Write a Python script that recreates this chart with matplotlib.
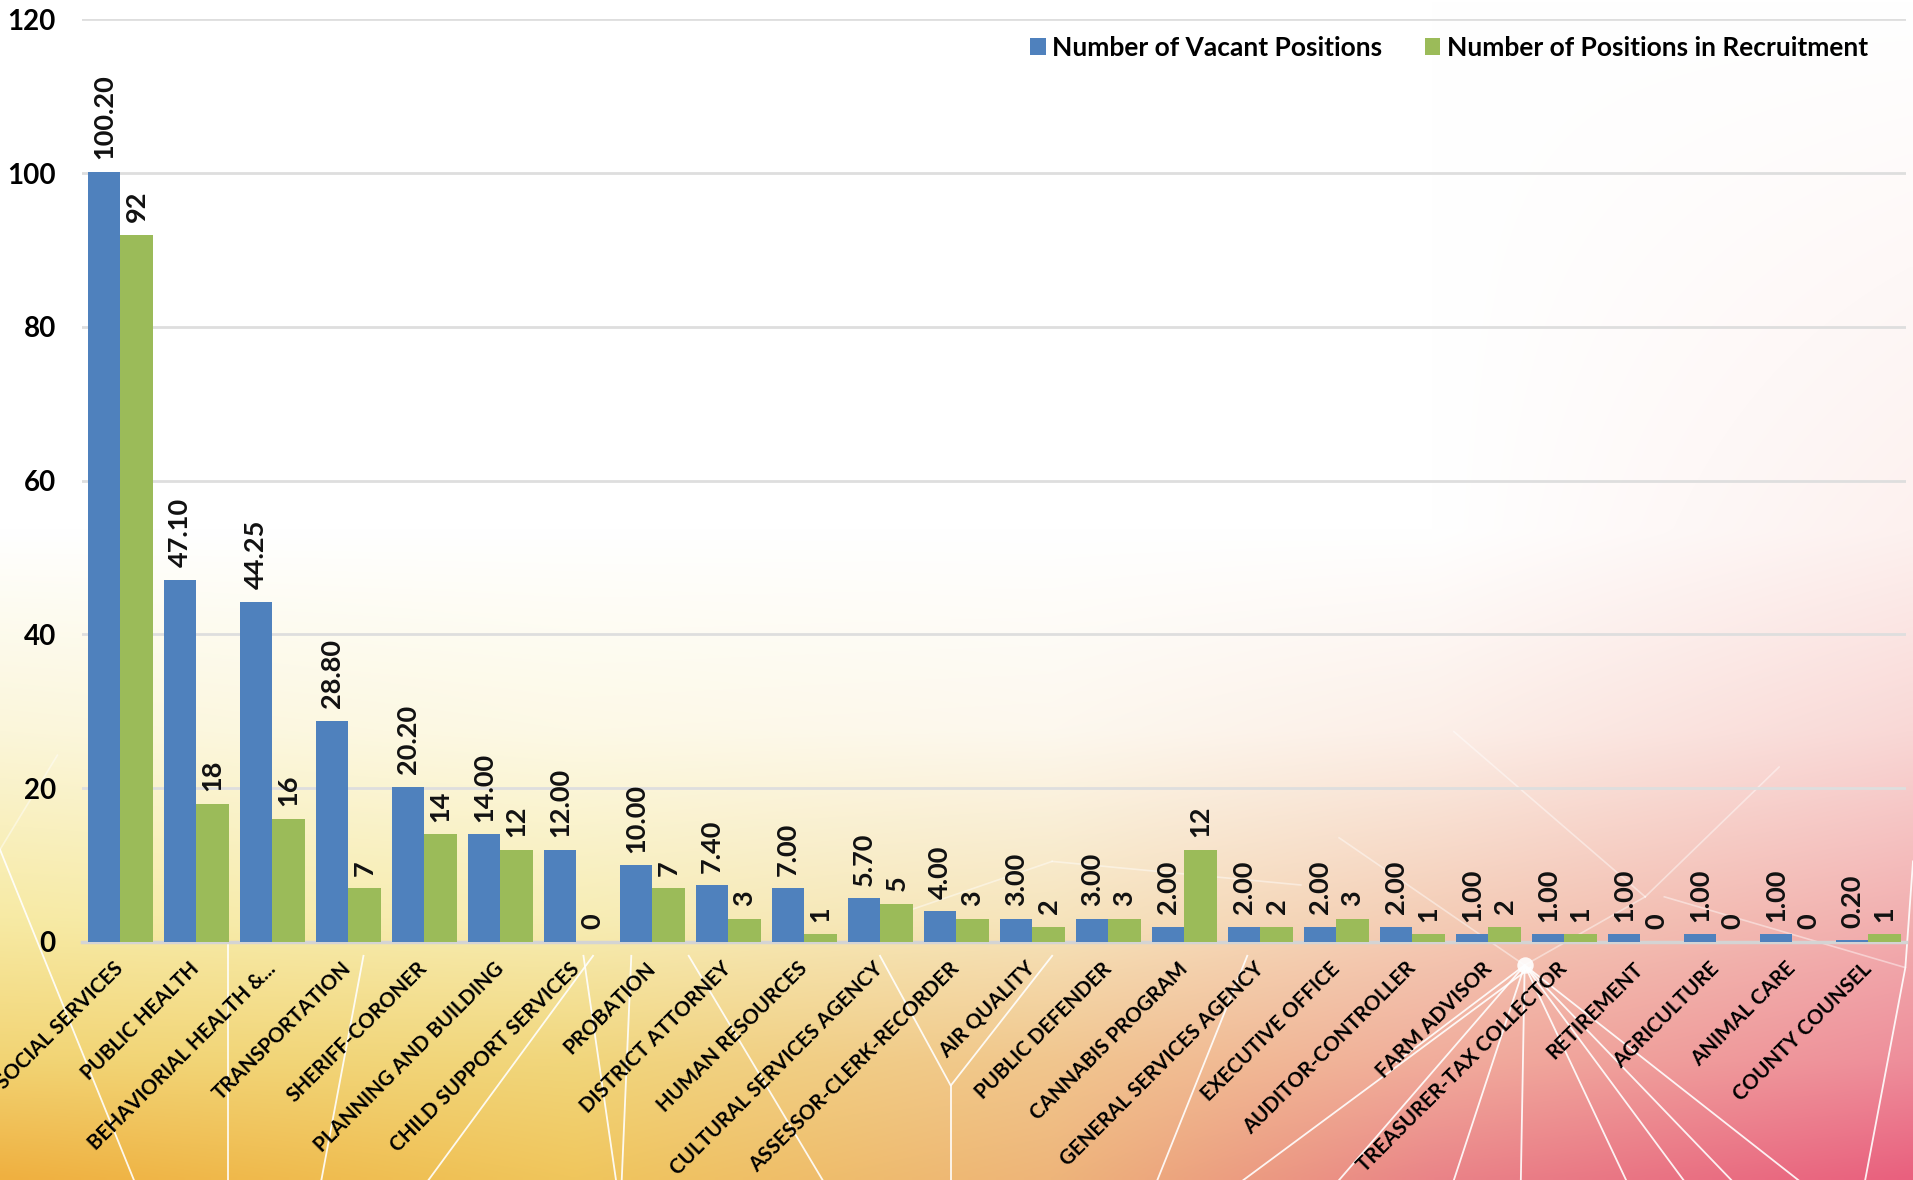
import numpy as np
import matplotlib.pyplot as plt
from matplotlib.colors import to_rgb

# department staffing numbers
departments = [
    "SOCIAL SERVICES", "PUBLIC HEALTH", "BEHAVIORIAL HEALTH &...", "TRANSPORTATION",
    "SHERIFF-CORONER", "PLANNING AND BUILDING", "CHILD SUPPORT SERVICES", "PROBATION",
    "DISTRICT ATTORNEY", "HUMAN RESOURCES", "CULTURAL SERVICES AGENCY",
    "ASSESSOR-CLERK-RECORDER", "AIR QUALITY", "PUBLIC DEFENDER", "CANNABIS PROGRAM",
    "GENERAL SERVICES AGENCY", "EXECUTIVE OFFICE", "AUDITOR-CONTROLLER", "FARM ADVISOR",
    "TREASURER-TAX COLLECTOR", "RETIREMENT", "AGRICULTURE", "ANIMAL CARE", "COUNTY COUNSEL",
]
vacant = [100.20, 47.10, 44.25, 28.80, 20.20, 14.00, 12.00, 10.00, 7.40, 7.00, 5.70, 4.00,
          3.00, 3.00, 2.00, 2.00, 2.00, 2.00, 1.00, 1.00, 1.00, 1.00, 1.00, 0.20]
recruiting = [92, 18, 16, 7, 14, 12, 0, 7, 3, 1, 5, 3, 2, 3, 12, 2, 3, 1, 2, 1, 0, 0, 0, 1]

BLUE = "#4f81bd"
GREEN = "#9bbb59"
FONT = ["Lato", "DejaVu Sans"]

fig = plt.figure(figsize=(19.13, 11.80), dpi=100)

# --- decorative background: soft gradient with white polygon lines ---
bg = fig.add_axes([0, 0, 1, 1], zorder=-10)
row_pos = [0.0, 0.45, 0.62, 0.78, 0.9, 1.0]
col_pos = [0.0, 0.3, 0.55, 0.75, 1.0]
grid_hex = [
    ["#ffffff", "#ffffff", "#ffffff", "#ffffff", "#ffffff"],
    ["#ffffff", "#ffffff", "#ffffff", "#ffffff", "#fdf1ef"],
    ["#fbf6da", "#fdf9e6", "#fdf8ee", "#fcefe8", "#f9d8d6"],
    ["#f7eaa4", "#f7edb4", "#f6e4bc", "#f4cdb6", "#f2afb0"],
    ["#f2d474", "#f1d67c", "#f1c68e", "#f1ad9c", "#ee8e9b"],
    ["#efb040", "#f0c65c", "#eeb57a", "#ea8488", "#e9607e"],
]
grid_rgb = np.array([[to_rgb(c) for c in row] for row in grid_hex])
H, W = 240, 380
ys = np.linspace(0, 1, H)
xs = np.linspace(0, 1, W)
tmp = np.zeros((len(row_pos), W, 3))
for i in range(len(row_pos)):
    for ch in range(3):
        tmp[i, :, ch] = np.interp(xs, col_pos, grid_rgb[i, :, ch])
img = np.zeros((H, W, 3))
for j in range(W):
    for ch in range(3):
        img[:, j, ch] = np.interp(ys, row_pos, tmp[:, j, ch])
bg.imshow(img, extent=[0, 1, 0, 1], aspect="auto", interpolation="bilinear", origin="upper")

# white "low poly" lines (figure fractions, y measured from bottom)
segments = [
    [(0.0, 0.28), (0.07, 0.0)],
    [(0.119, 0.20), (0.119, 0.0)],
    [(0.305, 0.19), (0.322, 0.0)],
    [(0.168, 0.0), (0.19, 0.19)],
    [(0.224, 0.0), (0.31, 0.19)],
    [(0.325, 0.0), (0.33, 0.19)],
    [(0.36, 0.19), (0.43, 0.0)],
    [(0.46, 0.19), (0.497, 0.08), (0.55, 0.19)],
    [(0.497, 0.08), (0.497, 0.0)],
    [(0.605, 0.0), (0.652, 0.19)],
    [(0.65, 0.0), (0.80, 0.18)],
    [(0.70, 0.0), (0.797, 0.182)],
    [(0.797, 0.182), (0.76, 0.0)],
    [(0.797, 0.182), (0.795, 0.0)],
    [(0.797, 0.182), (0.85, 0.0)],
    [(0.797, 0.182), (0.88, 0.0)],
    [(0.797, 0.182), (0.905, 0.0)],
    [(0.797, 0.182), (0.94, 0.0)],
    [(0.797, 0.182), (0.73, 0.10)],
    [(0.975, 0.0), (0.996, 0.18), (1.0, 0.27)],
]
faint = [
    [(0.797, 0.182), (0.70, 0.29)],
    [(0.797, 0.182), (0.86, 0.24)],
    [(0.996, 0.18), (0.87, 0.24)],
    [(0.86, 0.24), (0.93, 0.35)],
    [(0.86, 0.24), (0.76, 0.38)],
    [(0.46, 0.22), (0.55, 0.27)],
    [(0.55, 0.27), (0.68, 0.25)],
    [(0.0, 0.28), (0.03, 0.36)],
]
for seg in segments:
    sx, sy = zip(*seg)
    bg.plot(sx, sy, color="white", lw=1.3, alpha=0.9)
for seg in faint:
    sx, sy = zip(*seg)
    bg.plot(sx, sy, color="white", lw=1.2, alpha=0.45)
bg.scatter([0.797], [0.182], s=140, color="white", alpha=0.9, linewidths=0)
bg.set_xlim(0, 1)
bg.set_ylim(0, 1)
bg.axis("off")

# --- bar chart ---
ax = fig.add_axes([0.043, 0.2017, 0.9535, 0.7818])
ax.set_facecolor("none")

x = np.arange(len(departments))
w = 0.43
bars_v = ax.bar(x - w / 2, vacant, width=w, color=BLUE, label="Number of Vacant Positions", zorder=3)
bars_r = ax.bar(x + w / 2, recruiting, width=w, color=GREEN, label="Number of Positions in Recruitment", zorder=3)

for b, v in zip(bars_v, vacant):
    ax.annotate(f"{v:.2f}", (b.get_x() + b.get_width() / 2, v), xytext=(0, 9),
                textcoords="offset points", rotation=90, ha="center", va="bottom",
                fontsize=19.5, fontweight="bold", family=FONT, color="#111111")
for b, v in zip(bars_r, recruiting):
    ax.annotate(f"{v:d}", (b.get_x() + b.get_width() / 2, v), xytext=(0, 9),
                textcoords="offset points", rotation=90, ha="center", va="bottom",
                fontsize=19.5, fontweight="bold", family=FONT, color="#111111")

ax.set_xlim(-0.5, len(departments) - 0.5)
ax.set_ylim(0, 120)
ax.set_yticks(range(0, 121, 20))
ax.yaxis.grid(True, color="#dedede", lw=2, zorder=0)
ax.set_axisbelow(True)
for s in ["top", "right", "left"]:
    ax.spines[s].set_visible(False)
ax.spines["bottom"].set_color("#d4d4d4")
ax.spines["bottom"].set_linewidth(2.5)
ax.tick_params(axis="both", length=0)
ax.tick_params(axis="y", pad=19)
ax.tick_params(axis="x", pad=17)

for lab in ax.get_yticklabels():
    lab.set_fontsize(20)
    lab.set_fontweight("bold")
    lab.set_family(FONT)

ax.set_xticks(x)
ax.set_xticklabels(departments, rotation=45, ha="right", va="center",
                   rotation_mode="anchor", fontsize=14.8, fontweight="bold", family=FONT)

leg = ax.legend(loc="upper right", bbox_to_anchor=(0.989, 0.99), bbox_transform=fig.transFigure,
                ncol=2, frameon=False, handlelength=0.6, handleheight=0.6,
                handletextpad=0.25, columnspacing=1.6,
                prop={"family": FONT, "weight": "bold", "size": 19})

plt.savefig("out.png", dpi=100)
